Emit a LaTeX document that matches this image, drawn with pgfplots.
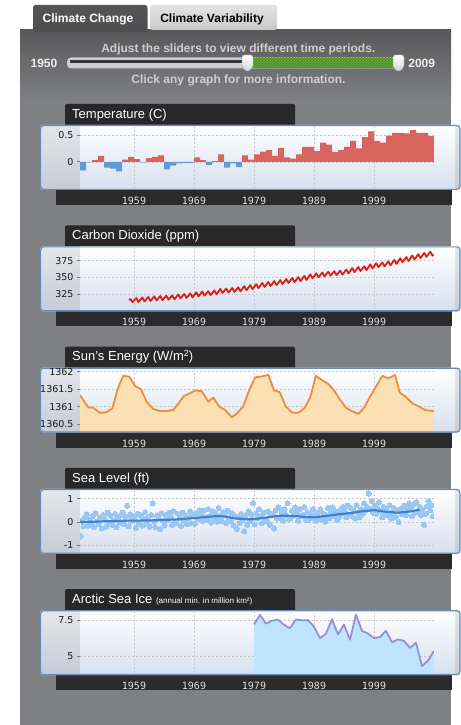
\documentclass[border=0pt]{standalone}
\usepackage{fontspec}
\setmainfont{Liberation Sans}
\newfontfamily\dejavu{DejaVu Sans}
\newfontfamily\dmono{DejaVu Sans Mono}
\usepackage{pgfplots}
\pgfplotsset{compat=1.18}
\usepackage{pgfplotstable}
\usetikzlibrary{patterns}

\definecolor{panelc}{RGB}{127,128,131}
\definecolor{paneltop}{RGB}{88,88,90}
\definecolor{tabc}{RGB}{40,40,40}
\definecolor{bandc}{RGB}{43,43,43}
\definecolor{gridc}{RGB}{200,200,200}
\definecolor{xlabc}{RGB}{225,225,225}
\definecolor{ylabc}{RGB}{25,25,25}
\definecolor{tickc}{RGB}{120,120,120}
\definecolor{stripTop}{RGB}{228,231,235}
\definecolor{stripBot}{RGB}{196,204,215}
\definecolor{plotBot}{RGB}{214,224,238}
\definecolor{boxborder}{RGB}{105,140,185}
\definecolor{tred}{RGB}{215,100,95}
\definecolor{tblue}{RGB}{95,155,215}
\definecolor{co2c}{RGB}{220,30,20}
\definecolor{sunline}{RGB}{240,140,60}
\definecolor{sunfill}{RGB}{250,224,178}
\definecolor{seadot}{RGB}{155,198,242}
\definecolor{sealine}{RGB}{60,130,212}
\definecolor{icefill}{RGB}{190,228,255}
\definecolor{iceline}{RGB}{150,145,215}
\definecolor{slidertxt}{RGB}{205,205,205}
\definecolor{greenc}{RGB}{100,165,55}
\definecolor{greendark}{RGB}{70,130,35}
\definecolor{tabDarkTop}{RGB}{85,85,87}
\definecolor{tabDarkBot}{RGB}{78,78,80}
\definecolor{tabLightTop}{RGB}{228,228,228}
\definecolor{tabLightBot}{RGB}{200,200,200}
\definecolor{yeartxt}{RGB}{238,238,238}
\definecolor{trackc}{RGB}{205,205,207}
\definecolor{trackdark}{RGB}{55,55,60}
\definecolor{handleBot}{RGB}{210,210,210}
\definecolor{handleDraw}{RGB}{140,140,140}

\pgfplotstableread{
x y
1950 1361.33
1951.4 1360.97
1952.2 1360.97
1953.3 1360.82
1954.4 1360.84
1955.4 1360.95
1956.3 1361.52
1957.2 1361.88
1958.2 1361.86
1959.2 1361.59
1960.2 1361.49
1961.1 1361.14
1962.2 1360.93
1963.3 1360.87
1964.4 1360.87
1965.6 1360.91
1966.4 1361.09
1967.3 1361.30
1968.3 1361.38
1969.2 1361.46
1970.3 1361.44
1971.4 1361.14
1972.2 1361.26
1973.2 1361.00
1974.2 1360.90
1975.3 1360.69
1976.1 1360.79
1977.2 1361.00
1978.2 1361.47
1979.2 1361.84
1980.2 1361.86
1981.4 1361.91
1982.3 1361.47
1983.3 1361.41
1984.3 1361.00
1985.4 1360.82
1986.4 1360.82
1987.5 1360.97
1988.4 1361.28
1989.3 1361.88
1990.3 1361.76
1991.4 1361.65
1992.3 1361.47
1993.3 1361.21
1994.3 1360.97
1995.3 1360.87
1996.4 1360.79
1997.4 1360.98
1998.4 1361.30
1999.4 1361.59
2000.4 1361.88
2001.4 1361.81
2002.5 1361.91
2003.3 1361.40
2004.3 1361.28
2005.4 1361.09
2006.5 1361.00
2007.5 1360.90
2009 1360.87
}\suntab

\pgfplotstableread{
x y
1979 7.20
1980 7.85
1981 7.25
1982 7.45
1983 7.52
1984 7.17
1985 6.93
1986 7.54
1987 7.48
1988 7.49
1989 7.04
1990 6.24
1991 6.55
1992 7.55
1993 6.50
1994 7.18
1995 6.13
1996 7.88
1997 6.74
1998 6.56
1999 6.24
2000 6.32
2001 6.75
2002 5.96
2003 6.15
2004 6.05
2005 5.57
2006 5.92
2007 4.30
2008 4.68
2009 5.36
}\icetab

\pgfplotstableread{
x y
1950 0.00
1952 0.01
1954 0.03
1956 0.04
1958 0.06
1960 0.06
1962 0.07
1964 0.09
1966 0.11
1968 0.15
1970 0.19
1972 0.24
1973 0.25
1974 0.24
1976 0.15
1978 0.12
1979 0.12
1981 0.19
1983 0.26
1984 0.27
1986 0.25
1988 0.21
1989 0.20
1991 0.26
1993 0.33
1995 0.38
1997 0.46
1999 0.51
2001 0.44
2003 0.40
2005 0.45
2006.5 0.52
}\seatrend

\pgfplotsset{
  cc/.style={
    anchor=south west, width=354pt, height=61pt, scale only axis,
    xmin=1950, xmax=2009,
    axis x line*=bottom, axis y line*=left, axis line style={draw=none},
    xtick={1959,1969,1979,1989,1999},
    xmajorgrids, ymajorgrids,
    grid style={dash pattern=on 2pt off 2pt, draw=gridc, line width=0.5pt},
    xtick style={draw=none},
    ytick style={draw=tickc, line width=0.6pt},
    major tick length=3pt, tick align=outside,
    /pgf/number format/assume math mode=true,
    /pgf/number format/set thousands separator={},
    scaled ticks=false,
    xticklabel style={font=\dmono\fontsize{10}{10}\selectfont, text=xlabc, anchor=center, yshift=-10pt},
    yticklabel style={font=\dejavu\fontsize{9.5}{10}\selectfont, text=ylabc},
  }
}

\newcommand\panelbg[2]{%
  \begin{scope}[x=1pt,y=1pt]
  \fill[bandc] (56,{#1-80}) rectangle (452,{#1-60});
  \fill[tabc, rounded corners=2pt] (65,{#1-5}) rectangle (295,{#1+21});
  \node[anchor=base west, text=white, inner sep=0pt, font=\fontsize{13}{15}\selectfont] at (72,{#1+6.7}) {#2};
  \shade[top color=stripTop, bottom color=stripBot, rounded corners=3pt] (40,{#1-65}) rectangle (460,#1);
  \shade[top color=white, bottom color=plotBot] (80,{#1-64.3}) rectangle (455,{#1-0.7});
  \draw[boxborder, line width=1.2pt, rounded corners=3pt] (40.6,{#1-64.4}) rectangle (460,{#1-0.6});
  \end{scope}
}

\begin{document}
\begin{tikzpicture}
\begin{scope}[x=1pt,y=1pt]
\path[use as bounding box] (0,0) rectangle (451,725);
\fill[white] (0,0) rectangle (451,725);
% gray panel
\fill[panelc] (20,0) rectangle (451,695);
\shade[top color=paneltop, bottom color=panelc] (20,625) rectangle (451,695);
% tabs
\shade[top color=tabDarkTop, bottom color=tabDarkBot, rounded corners=2.5pt] (33,693) rectangle (147.5,720);
\node[anchor=base, text=white, inner sep=0pt, font=\bfseries\fontsize{12}{14}\selectfont] at (88,702.2) {Climate Change};
\shade[top color=tabLightTop, bottom color=tabLightBot, rounded corners=2.5pt] (150,695) rectangle (277,720);
\fill[paneltop] (150,693) rectangle (277,695);
\node[anchor=base, text=black, inner sep=0pt, font=\bfseries\fontsize{12}{14}\selectfont] at (212,702.2) {Climate Variability};
% slider
\node[anchor=base, text=slidertxt, inner sep=0pt, font=\bfseries\fontsize{12}{14}\selectfont] at (238.3,672.7) {Adjust the sliders to view different time periods.};
\node[anchor=base, text=slidertxt, inner sep=0pt, font=\bfseries\fontsize{12}{14}\selectfont] at (238.5,641.4) {Click any graph for more information.};
\node[anchor=base, text=yeartxt, inner sep=0pt, font=\bfseries\fontsize{12}{14}\selectfont] at (44,657.5) {1950};
\node[anchor=base, text=yeartxt, inner sep=0pt, font=\bfseries\fontsize{12}{14}\selectfont] at (421.7,657.5) {2009};
\fill[trackc, rounded corners=4pt] (67,656.5) rectangle (400,667.5);
\fill[trackdark] (70,662) rectangle (245,664.5);
\fill[greenc] (252,657) rectangle (396,667);
\fill[pattern=north east lines, pattern color=greendark] (252,657) rectangle (396,667);
\shade[top color=white, bottom color=handleBot, draw=handleDraw, rounded corners=2pt] (242,670) -- (253,670) -- (253,657) -- (247.5,653) -- (242,657) -- cycle;
\shade[top color=white, bottom color=handleBot, draw=handleDraw, rounded corners=2pt] (393,670) -- (404,670) -- (404,657) -- (398.5,653) -- (393,657) -- cycle;
\end{scope}

% ---------------- Panel 1: Temperature
\panelbg{600}{Temperature (C)}
\begin{axis}[cc, at={(80pt,537pt)}, ymin=-0.49, ymax=0.65, ytick={0,0.5}]
\addplot[ybar, bar width=6pt, bar shift=3pt, fill=tred, draw=none] coordinates {
(1952,0.03)(1953,0.11)(1957,0.04)(1958,0.09)(1959,0.05)(1961,0.07)(1962,0.09)(1963,0.12)
(1969,0.08)(1970,0.03)(1972,0.01)(1973,0.14)(1977,0.12)(1978,0.04)(1979,0.14)(1980,0.19)
(1981,0.22)(1982,0.11)(1983,0.26)(1984,0.08)(1985,0.06)(1986,0.14)(1987,0.28)(1988,0.28)
(1989,0.20)(1990,0.36)(1991,0.32)(1992,0.18)(1993,0.22)(1994,0.28)(1995,0.39)(1996,0.25)
(1997,0.46)(1998,0.57)(1999,0.39)(2000,0.36)(2001,0.49)(2002,0.54)(2003,0.54)(2004,0.53)
(2005,0.59)(2006,0.54)(2007,0.54)(2008,0.48)};
\addplot[ybar, bar width=6pt, bar shift=3pt, fill=tblue, draw=none] coordinates {
(1950,-0.16)(1951,-0.01)(1954,-0.11)(1955,-0.13)(1956,-0.18)(1960,-0.01)(1964,-0.14)
(1965,-0.07)(1966,-0.03)(1967,-0.02)(1968,-0.02)(1971,-0.06)(1974,-0.11)(1975,-0.03)(1976,-0.10)};
\end{axis}

% ---------------- Panel 2: CO2
\panelbg{478.7}{Carbon Dioxide (ppm)}
\begin{axis}[cc, at={(80pt,415.7pt)}, ymin=302, ymax=393.6, ytick={325,350,375}]
\addplot[co2c, line width=1.8pt, line join=round] coordinates {
(1958.2,315.7)(1958.38,317.5)(1958.75,312.7)
(1959.38,318.9)(1959.75,312.9)(1960.38,319.8)(1960.75,313.8)
(1961.38,320.5)(1961.75,314.5)(1962.38,321.4)(1962.75,315.4)
(1963.38,321.9)(1963.75,315.9)(1964.38,322.5)(1964.75,316.5)
(1965.38,322.9)(1965.75,316.9)(1966.38,324.3)(1966.75,318.3)
(1967.38,325.1)(1967.75,319.1)(1968.38,325.9)(1968.75,319.9)
(1969.38,327.5)(1969.75,321.5)(1970.38,328.6)(1970.75,322.6)
(1971.38,329.2)(1971.75,323.2)(1972.38,330.4)(1972.75,324.4)
(1973.38,332.6)(1973.75,326.6)(1974.38,333.1)(1974.75,327.1)
(1975.38,334.0)(1975.75,328.0)(1976.38,335.0)(1976.75,329.0)
(1977.38,336.7)(1977.75,330.7)(1978.38,338.3)(1978.75,332.3)
(1979.38,339.7)(1979.75,333.7)(1980.38,341.6)(1980.75,335.6)
(1981.38,343.0)(1981.75,337.0)(1982.38,344.3)(1982.75,338.3)
(1983.38,345.9)(1983.75,339.9)(1984.38,347.5)(1984.75,341.5)
(1985.38,348.9)(1985.75,342.9)(1986.38,350.3)(1986.75,344.3)
(1987.38,352.1)(1987.75,346.1)(1988.38,354.5)(1988.75,348.5)
(1989.38,356.0)(1989.75,350.0)(1990.38,357.3)(1990.75,351.3)
(1991.38,358.5)(1991.75,352.5)(1992.38,359.3)(1992.75,353.3)
(1993.38,360.0)(1993.75,354.0)(1994.38,361.8)(1994.75,355.8)
(1995.38,363.8)(1995.75,357.8)(1996.38,365.5)(1996.75,359.5)
(1997.38,366.7)(1997.75,360.7)(1998.38,369.5)(1998.75,363.5)
(1999.38,371.2)(1999.75,365.2)(2000.38,372.4)(2000.75,366.4)
(2001.38,374.0)(2001.75,368.0)(2002.38,376.1)(2002.75,370.1)
(2003.38,378.7)(2003.75,372.7)(2004.38,380.4)(2004.75,374.4)
(2005.38,382.7)(2005.75,376.7)(2006.38,384.8)(2006.75,378.8)
(2007.38,386.7)(2007.75,380.7)(2008.38,388.5)(2008.75,382.5)(2008.92,384.5)};
\end{axis}

% ---------------- Panel 3: Sun
\panelbg{357.4}{Sun's Energy (W/m\raisebox{4.5pt}{\fontsize{9}{9}\selectfont 2})}
\begin{axis}[cc, at={(80pt,294.4pt)}, ymin=1360.31, ymax=1362.06, ytick={1360.5,1361,1361.5,1362}]
\addplot[draw=none, fill=sunfill] table[x=x,y=y] {\suntab} -- (axis cs:2009,1360.2) -- (axis cs:1950,1360.2) -- cycle;
\addplot[sunline, line width=1.8pt, line join=round] table[x=x,y=y] {\suntab};
\end{axis}

% ---------------- Panel 4: Sea level
\panelbg{236.1}{Sea Level (ft)}
\begin{axis}[cc, at={(80pt,173.1pt)}, ymin=-1.283, ymax=1.335, ytick={-1,0,1}, clip marker paths=true]
\addplot[only marks, color=seadot, mark=*, mark size=2.6pt, mark options={draw=seadot, fill=seadot, line width=0pt}] coordinates {
(1950.1,-0.62)(1950.35,0.05)(1950.6,-0.18)(1950.85,0.22)
(1951.1,0.32)(1951.35,-0.15)(1951.6,0.10)(1951.85,-0.05)
(1952.1,0.25)(1952.35,-0.22)(1952.6,0.38)(1952.85,0.02)
(1953.1,-0.10)(1953.35,0.20)(1953.6,-0.28)(1953.85,0.30)
(1954.1,0.12)(1954.35,-0.20)(1954.6,0.40)(1954.85,-0.08)
(1955.1,0.28)(1955.35,-0.12)(1955.6,0.05)(1955.85,0.35)
(1956.1,-0.22)(1956.35,0.18)(1956.6,-0.05)(1956.85,0.30)
(1957.1,0.40)(1957.35,-0.10)(1957.6,0.22)(1957.85,0.70)
(1958.1,-0.18)(1958.35,0.32)(1958.6,0.05)(1958.85,0.25)
(1959.1,0.10)(1959.35,-0.25)(1959.6,0.35)(1959.85,-0.05)
(1960.1,0.28)(1960.35,-0.15)(1960.6,0.15)(1960.85,0.42)
(1961.1,-0.08)(1961.35,0.20)(1961.6,-0.20)(1961.85,0.30)
(1962.1,0.80)(1962.35,0.02)(1962.6,-0.22)(1962.85,0.28)
(1963.1,0.15)(1963.35,-0.30)(1963.6,0.38)(1963.85,0.05)
(1964.1,-0.15)(1964.35,0.30)(1964.6,0.10)(1964.85,0.40)
(1965.1,0.22)(1965.35,-0.12)(1965.6,0.45)(1965.85,0.00)
(1966.1,-0.05)(1966.35,0.35)(1966.6,0.18)(1966.85,-0.18)
(1967.1,0.40)(1967.35,0.05)(1967.6,0.28)(1967.85,-0.10)
(1968.1,0.18)(1968.35,0.45)(1968.6,-0.05)(1968.85,0.30)
(1969.1,-0.08)(1969.35,0.38)(1969.6,0.12)(1969.85,0.50)
(1970.1,0.35)(1970.35,0.05)(1970.6,0.48)(1970.85,0.20)
(1971.1,0.10)(1971.35,0.55)(1971.6,0.25)(1971.85,-0.02)
(1972.1,0.45)(1972.35,0.15)(1972.6,0.38)(1972.85,0.02)
(1973.1,0.60)(1973.35,0.25)(1973.6,0.05)(1973.85,0.42)
(1974.1,0.30)(1974.35,-0.05)(1974.6,0.48)(1974.85,0.15)
(1975.1,0.05)(1975.35,0.38)(1975.6,-0.15)(1975.85,0.25)
(1976.1,-0.30)(1976.35,0.20)(1976.6,-0.05)(1976.85,0.35)
(1977.1,0.10)(1977.35,-0.40)(1977.6,0.28)(1977.85,-0.12)
(1978.1,0.45)(1978.35,0.05)(1978.6,0.30)(1978.85,0.82)
(1979.1,-0.10)(1979.35,0.35)(1979.6,0.15)(1979.85,0.55)
(1980.1,0.25)(1980.35,-0.05)(1980.6,0.40)(1980.85,0.10)
(1981.1,0.05)(1981.35,0.45)(1981.6,-0.12)(1981.85,0.32)
(1982.1,0.35)(1982.35,-0.28)(1982.6,0.50)(1982.85,0.15)
(1983.1,0.62)(1983.35,0.20)(1983.6,0.40)(1983.85,0.05)
(1984.1,0.55)(1984.35,0.30)(1984.6,0.80)(1984.85,0.12)
(1985.1,0.15)(1985.35,0.48)(1985.6,0.28)(1985.85,0.62)
(1986.1,0.40)(1986.35,0.05)(1986.6,0.55)(1986.85,0.25)
(1987.1,0.30)(1987.35,0.65)(1987.6,0.10)(1987.85,0.42)
(1988.1,0.08)(1988.35,0.38)(1988.6,0.18)(1988.85,0.55)
(1989.1,0.30)(1989.35,0.05)(1989.6,0.40)(1989.85,0.15)
(1990.1,0.55)(1990.35,0.12)(1990.6,0.35)(1990.85,0.02)
(1991.1,0.28)(1991.35,0.60)(1991.6,0.15)(1991.85,0.45)
(1992.1,0.62)(1992.35,0.25)(1992.6,0.45)(1992.85,0.08)
(1993.1,0.18)(1993.35,0.52)(1993.6,0.35)(1993.85,0.65)
(1994.1,0.45)(1994.35,0.20)(1994.6,0.70)(1994.85,0.30)
(1995.1,0.60)(1995.35,0.25)(1995.6,0.48)(1995.85,0.15)
(1996.1,0.72)(1996.35,0.40)(1996.6,0.20)(1996.85,0.55)
(1997.1,0.35)(1997.35,0.80)(1997.6,0.50)(1997.85,0.65)
(1998.1,1.22)(1998.35,0.55)(1998.6,0.90)(1998.85,0.40)
(1999.1,0.70)(1999.35,0.35)(1999.6,0.60)(1999.85,0.85)
(2000.1,0.45)(2000.35,0.20)(2000.6,0.65)(2000.85,0.32)
(2001.1,0.55)(2001.35,0.30)(2001.6,0.72)(2001.85,0.15)
(2002.1,0.40)(2002.35,0.60)(2002.6,0.22)(2002.85,0.48)
(2003.1,0.00)(2003.35,0.55)(2003.6,0.35)(2003.85,0.62)
(2004.1,0.70)(2004.35,0.30)(2004.6,0.55)(2004.85,0.80)
(2005.1,0.60)(2005.35,0.25)(2005.6,0.75)(2005.85,0.40)
(2006.1,0.85)(2006.35,0.45)(2006.6,0.65)(2006.85,0.30)
(2007.1,0.55)(2007.35,-0.12)(2007.6,0.35)(2007.85,0.68)
(2008.1,0.90)(2008.35,0.50)(2008.6,0.72)(2008.85,0.25)};
\addplot[draw=sealine, line width=2.2pt, line join=round, line cap=round, mark=none] table[x=x,y=y] {\seatrend};
\end{axis}

% ---------------- Panel 5: Arctic sea ice
\panelbg{114.8}{Arctic Sea Ice {\fontsize{8}{9}\selectfont (annual min. in million km²)}}
\begin{axis}[cc, at={(80pt,51.8pt)}, ymin=3.81, ymax=8.04, ytick={5,7.5}]
\addplot[draw=none, fill=icefill] table[x=x,y=y] {\icetab} -- (axis cs:2009,3.7) -- (axis cs:1979,3.7) -- cycle;
\addplot[iceline, line width=1.8pt, line join=round] table[x=x,y=y] {\icetab};
\end{axis}
\end{tikzpicture}
\end{document}
